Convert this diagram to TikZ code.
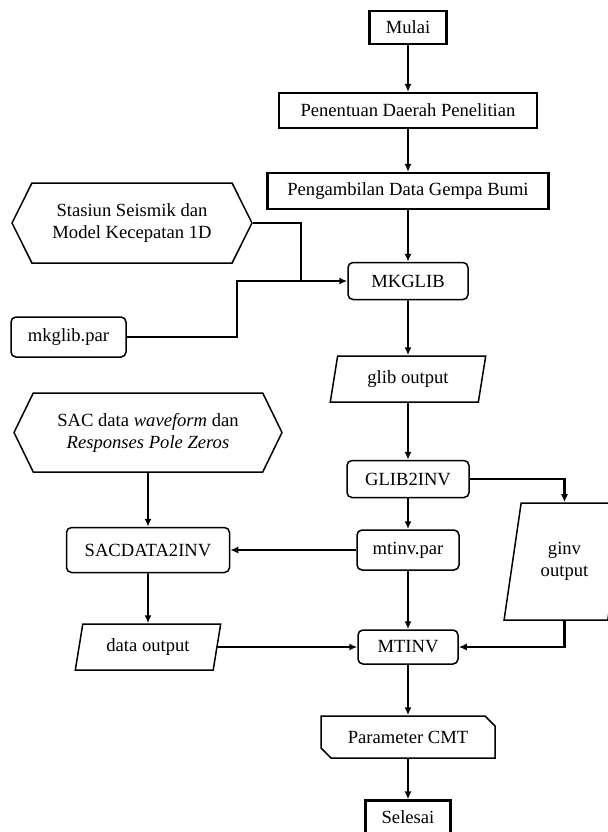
\documentclass[tikz,border=0pt]{standalone}
\usepackage{fontspec}
\setmainfont{Liberation Serif}
\usepackage{tikz}
\usetikzlibrary{shapes.geometric,shapes.misc,shapes.symbols,arrows.meta,positioning}
\tikzstyle{term} = [rectangle, draw, line width=1.1pt, minimum height=16.5pt, inner sep=1pt, text centered]
\tikzstyle{prog} = [rectangle, draw, rounded corners=2.5pt, line width=0.75pt, minimum height=18.5pt, inner sep=1pt, text centered]
\tikzstyle{io} = [trapezium, trapezium stretches=true, trapezium left angle=78, trapezium right angle=102, draw, line width=0.75pt, inner sep=1pt, align=center]
\tikzstyle{hexa} = [signal, signal to=west and east, signal pointer angle=127, draw, line width=0.75pt, inner sep=1pt, align=center]
\tikzstyle{res} = [chamfered rectangle, chamfered rectangle corners={north east,south west}, chamfered rectangle xsep=2.5pt, chamfered rectangle ysep=2.5pt, draw, line width=0.75pt, inner sep=1pt]
\tikzstyle{arr} = [-{Latex[length=4pt,width=3.5pt]}, line width=0.85pt]

\begin{document}
\begin{tikzpicture}[x=0.5pt, y=-0.5pt, font=\fontsize{9.3}{11}\selectfont]
\useasboundingbox(0,0)rectangle(608,832);
\node(M)[term, minimum width=38.5pt] at (408,27.5) {Mulai};
\node(P)[term, minimum width=129pt, minimum height=17.5pt] at (408,110.5) {Penentuan Daerah Penelitian};
\node(D)[term, minimum width=140.5pt, minimum height=18pt] at (408,191) {Pengambilan Data Gempa Bumi};
\node(K)[prog, minimum width=60pt] at (408,281) {MKGLIB};
\node(S)[hexa, minimum width=120pt, minimum height=40pt] at (132,223) {Stasiun Seismik dan\\Model Kecepatan 1D};
\node(KP)[prog, minimum width=57.5pt, minimum height=20pt] at (68.5,337) {mkglib.par};
\node(GO)[io, minimum width=78pt, minimum height=23pt] at (408,379) {glib output};
\node(G)[prog, minimum width=61pt] at (408,479) {GLIB2INV};
\node(GI)[io, trapezium left angle=76.5, trapezium right angle=103.5, minimum width=60.5pt, minimum height=58.5pt] at (564.5,561.5) {ginv\\output};
\node(W)[hexa, signal pointer angle=128, minimum width=134pt, minimum height=39.5pt] at (148,432.5) {SAC data \textit{waveform} dan\\\textit{Responses Pole Zeros}};
\node(MP)[prog, minimum width=51pt, minimum height=20pt] at (408,550) {mtinv.par};
\node(SD)[prog, minimum width=81.5pt, minimum height=22.5pt] at (148,550) {SACDATA2INV};
\node(DO)[io, trapezium left angle=76.5, trapezium right angle=103.5, minimum width=73pt, minimum height=23pt] at (148,647) {data output};
\node(MT)[prog, minimum width=50pt, minimum height=17pt] at (408,647) {MTINV};
\node(C)[res, minimum width=87pt, minimum height=21pt] at (408,737) {Parameter CMT};
\node(E)[term, minimum width=42.5pt] at (408,817) {Selesai};
\coordinate(J1) at (301,281);
\coordinate(J2) at (237,281);
\draw[arr](M.south)--(P.north);
\draw[arr](P.south)--(D.north);
\draw[arr](D.south)--(K.north);
\draw[line width=0.85pt](S.east)-|(J1);
\draw[arr](KP.east)-|(J2)--(K.west);
\draw[arr](K.south)--(GO.north);
\draw[arr](GO.south)--(G.north);
\draw[arr, line width=1.2pt](G.east)-|(GI.center|-GI.north);
\draw[arr](G.south)--(MP.north);
\draw[arr](MP.west)--(SD.east);
\draw[arr](W.south)--(SD.north);
\draw[arr](SD.south)--(DO.north);
\draw[arr](DO.east)--(MT.west);
\draw[arr](MP.south)--(MT.north);
\draw[arr, line width=1.2pt](GI.center|-GI.south)|-(MT.east);
\draw[arr](MT.south)--(C.north);
\draw[arr](C.south)--(E.north);
\end{tikzpicture}
\end{document}
